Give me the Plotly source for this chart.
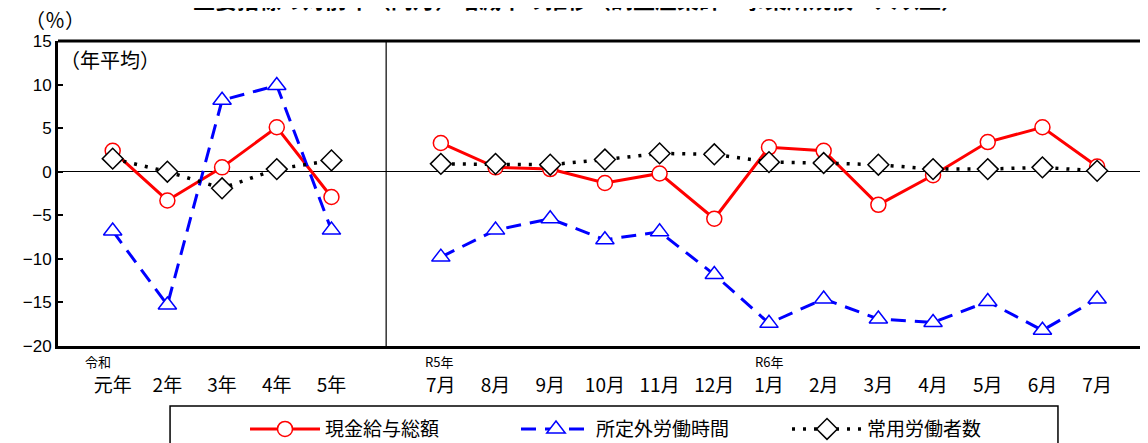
import plotly.graph_objects as go

# 年平均（令和元年～5年）と月次（R5年7月～R6年7月）
nen_labels = ["元年", "2年", "3年", "4年", "5年"]
tsuki_labels = ["7月", "8月", "9月", "10月", "11月", "12月",
                "1月", "2月", "3月", "4月", "5月", "6月", "7月"]

kyuyo_nen = [2.4, -3.3, 0.5, 5.1, -2.9]
jikan_nen = [-6.8, -15.3, 8.2, 9.9, -6.7]
koyo_nen = [1.5, 0.0, -1.9, 0.3, 1.3]

kyuyo_tsuki = [3.3, 0.5, 0.3, -1.3, -0.2, -5.4, 2.8, 2.4, -3.8, -0.4, 3.4, 5.1, 0.6]
jikan_tsuki = [-9.8, -6.7, -5.4, -7.8, -6.9, -11.8, -17.4, -14.6, -16.9, -17.3, -14.9, -18.2, -14.6]
koyo_tsuki = [0.9, 0.9, 0.8, 1.4, 2.1, 2.0, 1.1, 1.0, 0.8, 0.3, 0.3, 0.5, 0.1]

# 年平均と月次の間に空欄を1つ入れる
labels = nen_labels + [""] + tsuki_labels
x = list(range(len(labels)))
kyuyo = kyuyo_nen + [None] + kyuyo_tsuki
jikan = jikan_nen + [None] + jikan_tsuki
koyo = koyo_nen + [None] + koyo_tsuki
gap = len(nen_labels)

JP = "Noto Sans CJK JP"

fig = go.Figure()
fig.add_trace(go.Scatter(x=x, y=kyuyo, name="現金給与総額", mode="lines+markers",
                         line=dict(color="#FF0000", width=3),
                         marker=dict(symbol="circle", size=15, color="white",
                                     line=dict(color="#FF0000", width=1.5))))
fig.add_trace(go.Scatter(x=x, y=jikan, name="所定外労働時間", mode="lines+markers",
                         line=dict(color="#0000FF", width=3, dash="15px,9px"),
                         marker=dict(symbol="triangle-up", size=16, color="white",
                                     line=dict(color="#0000FF", width=1.5))))
fig.add_trace(go.Scatter(x=x, y=koyo, name="常用労働者数", mode="lines+markers",
                         line=dict(color="black", width=3.5, dash="3px,8px"),
                         marker=dict(symbol="diamond", size=16, color="white",
                                     line=dict(color="black", width=1.5))))

fig.update_xaxes(range=[-1, 18.93], tickvals=x, ticktext=labels,
                 showline=True, linewidth=3, linecolor="black",
                 ticks="", showgrid=False, zeroline=False,
                 tickfont=dict(family=JP, size=19, color="black"),
                 ticklabelstandoff=20)
fig.update_yaxes(range=[-20, 15], dtick=5, ticks="inside", ticklen=5, tickwidth=2,
                 tickcolor="black", showline=True, linewidth=3, linecolor="black",
                 showgrid=False, zeroline=True, zerolinecolor="black", zerolinewidth=1,
                 tickfont=dict(family="Liberation Sans", size=17, color="black"))

# 上の枠線と年平均／月次の区切り線
fig.add_shape(type="line", xref="paper", yref="paper", x0=0, x1=1, y0=1, y1=1,
              line=dict(color="black", width=3))
fig.add_shape(type="line", xref="x", yref="paper", x0=gap, x1=gap, y0=0, y1=1,
              line=dict(color="black", width=1.2))
# 凡例の枠
fig.add_shape(type="rect", xref="paper", yref="paper", x0=0.1028, x1=0.9174,
              y0=-0.197, y1=-0.40, line=dict(color="black", width=1.5))

# 年号の小さいラベル
for xi, txt, dx in [(0, "令和", -15), (gap + 1, "R5年", -2), (gap + 7, "R6年", 0)]:
    fig.add_annotation(x=xi, y=0, xref="x", yref="paper", text=txt, showarrow=False,
                       xshift=dx, yshift=-15, xanchor="center", yanchor="middle",
                       font=dict(family=JP, size=13, color="black"))

fig.add_annotation(x=-0.0032, y=1.069, xref="paper", yref="paper", text="（％）",
                   xanchor="center", yanchor="middle", showarrow=False,
                   font=dict(family=JP, size=20, color="black"))
fig.add_annotation(x=0.0477, y=0.938, xref="paper", yref="paper", text="（年平均）",
                   xanchor="center", yanchor="middle", showarrow=False,
                   font=dict(family=JP, size=20, color="black"))
fig.add_annotation(x=0.477, y=1.141, xref="paper", yref="paper",
                   xanchor="center", yanchor="middle",
                   text="<b>主要指標の対前年（同月）増減率の推移（調査産業計・事業所規模５人以上）</b>",
                   showarrow=False, font=dict(family=JP, size=22, color="black"))

# ページの余白（8px）の分だけ小さくする
fig.update_layout(width=1140, height=435,
                  margin=dict(l=50, r=0, t=33, b=97, autoexpand=False),
                  paper_bgcolor="white", plot_bgcolor="white",
                  legend=dict(orientation="h", xref="container", yref="container",
                              x=0.2079, xanchor="left", y=0.032, yanchor="middle",
                              bgcolor="rgba(0,0,0,0)",
                              font=dict(family=JP, size=19, color="black"),
                              itemwidth=70, entrywidth=186),
                  font=dict(family=JP))

fig.write_html("out.html")
